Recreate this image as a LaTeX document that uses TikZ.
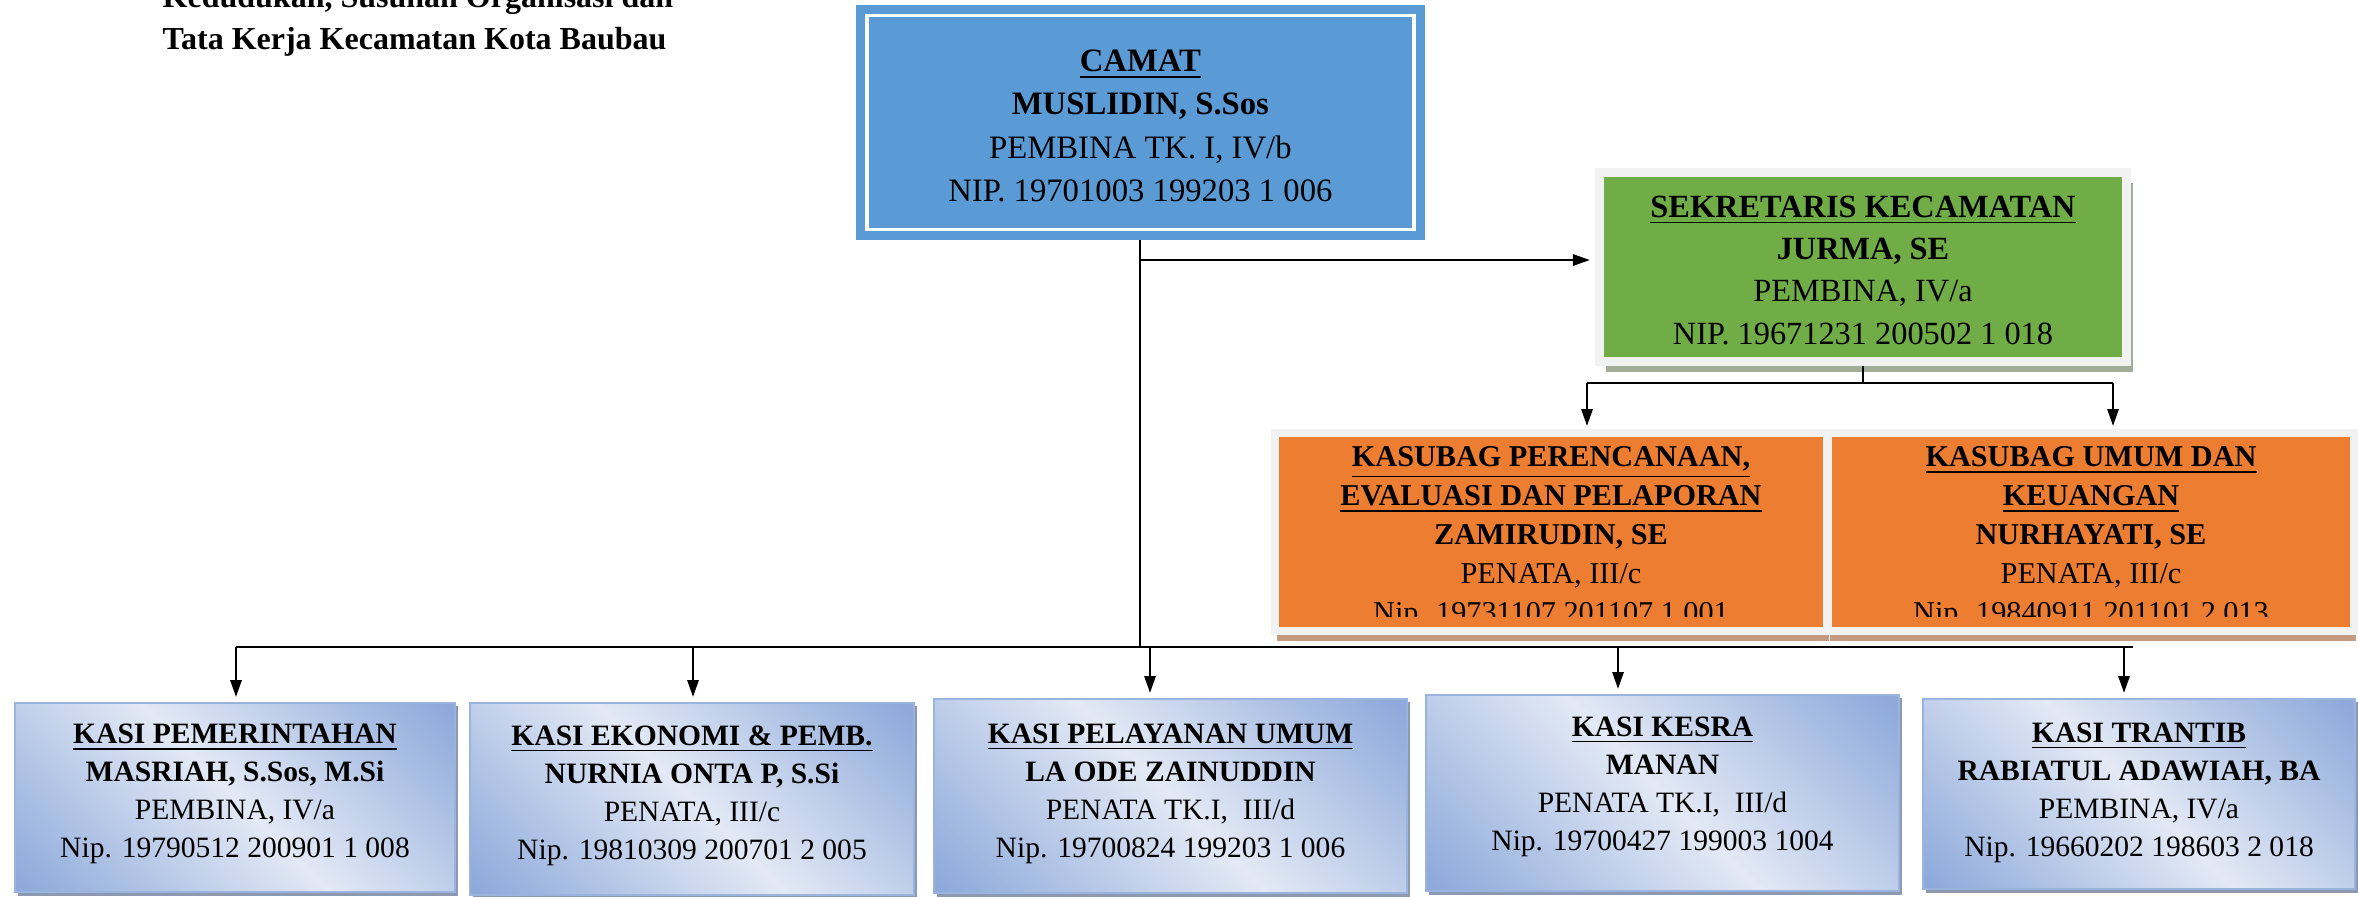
\documentclass[tikz,border=0pt]{standalone}
\usepackage{fontspec}
\setmainfont{Liberation Serif}
\usetikzlibrary{arrows.meta, shadows}
\definecolor{camatblue}{HTML}{5B9BD5}
\definecolor{sekgreen}{HTML}{70AD47}
\definecolor{framegray}{HTML}{F2F2F2}
\definecolor{sekshade}{HTML}{A3AC96}
\definecolor{suborange}{HTML}{ED7D31}
\definecolor{subshade}{HTML}{C49A80}
\definecolor{kdark}{HTML}{8EAADB}
\definecolor{klight}{HTML}{E3E9F5}
\definecolor{kline}{HTML}{9AB3DF}
\definecolor{kshade}{HTML}{8C99B0}
\pgfdeclarehorizontalshading{kasifade}{100bp}{color(0bp)=(kdark); color(16bp)=(kdark); color(50bp)=(klight); color(84bp)=(kdark); color(100bp)=(kdark)}
\newcommand{\topgap}{\rule{0pt}{8pt}}
\newcommand{\lowgap}[1]{\rule[-#1]{0pt}{1pt}}

\begin{document}
\begin{tikzpicture}[x=0.01cm, y=0.01cm,
  box/.style={rectangle, inner sep=0pt, align=center},
  head/.style={box, fill=camatblue, draw=camatblue, double=white, line width=2.56pt,
               double distance=1pt, outer sep=3.06pt, minimum width=5.47cm, minimum height=2.14cm,
               font=\fontsize{9.3}{12.3}\selectfont},
  sekbox/.style={box, fill=sekgreen, draw=framegray, line width=2.56pt,
                 minimum width=5.27cm, minimum height=1.89cm, font=\fontsize{9.2}{12}\selectfont,
                 drop shadow={shadow xshift=0.065cm, shadow yshift=-0.105cm, fill=sekshade, opacity=1}},
  subbox/.style={box, fill=suborange, draw=framegray, line width=2.28pt, minimum height=1.98cm,
                 drop shadow={shadow xshift=0.02cm, shadow yshift=-0.1cm, fill=subshade, opacity=1}},
  subtext/.style={align=center, anchor=north, inner sep=0pt, font=\fontsize{8.6}{11.1}\selectfont},
  kasi/.style={box, shading=kasifade, shading angle=45, draw=kline, line width=0.6pt,
               font=\fontsize{8.4}{10.8}\selectfont,
               drop shadow={shadow xshift=0.03cm, shadow yshift=-0.035cm, fill=kshade, opacity=1}},
  conn/.style={-{Triangle[length=4.8pt, width=3.2pt]}, line width=0.6pt},
  bus/.style={line width=0.8pt}
]
  \path[use as bounding box, clip] (0,0) rectangle (2358,-896);

  \node[anchor=south west, inner sep=0pt, align=left, font=\bfseries\fontsize{9.1}{12}\selectfont] (judul)
    at (162,-57) {Kedudukan, Susunan Organisasi dan\\Tata Kerja Kecamatan Kota Baubau};

  \node[head] (camat) at (1140.4,-122.6)
    {\topgap\underline{\textbf{CAMAT}}\\\textbf{MUSLIDIN, S.Sos}\\PEMBINA TK. I, IV/b\\NIP. 19701003 199203 1 006};
  \node[sekbox] (sekcam) at (1863,-267)
    {\topgap\underline{\textbf{SEKRETARIS KECAMATAN}}\\\textbf{JURMA, SE}\\PEMBINA, IV/a\\NIP. 19671231 200502 1 018};

  \node[subbox, minimum width=5.52cm] (perenc) at (1551,-532) {};
  \node[subbox, minimum width=5.26cm] (umum) at (2091,-532) {};
  \begin{scope}
    \clip (1279,-438) rectangle (1823,-616);
    \node[subtext] (perenctxt) at (1551,-446)
      {\underline{\textbf{KASUBAG PERENCANAAN,}}\\\underline{\textbf{EVALUASI DAN PELAPORAN}}\\\textbf{ZAMIRUDIN, SE}\\PENATA, III/c\\Nip. 19731107 201107 1 001};
  \end{scope}
  \begin{scope}
    \clip (1832,-438) rectangle (2351,-616);
    \node[subtext] (umumtxt) at (2091,-446)
      {\underline{\textbf{KASUBAG UMUM DAN}}\\\underline{\textbf{KEUANGAN}}\\\textbf{NURHAYATI, SE}\\PENATA, III/c\\Nip. 19840911 201101 2 013};
  \end{scope}

  \node[kasi, minimum width=4.40cm, minimum height=1.89cm] (pem) at (235,-797.5)
    {\underline{\textbf{KASI PEMERINTAHAN}}\\\textbf{MASRIAH, S.Sos, M.Si}\\PEMBINA, IV/a\\Nip. 19790512 200901 1 008\lowgap{3.7pt}};
  \node[kasi, minimum width=4.44cm, minimum height=1.92cm] (eko) at (692,-799)
    {\underline{\textbf{KASI EKONOMI \& PEMB.}}\\\textbf{NURNIA ONTA P, S.Si}\\PENATA, III/c\\Nip. 19810309 200701 2 005\lowgap{3.7pt}};
  \node[kasi, minimum width=4.73cm, minimum height=1.94cm] (pel) at (1170.5,-796)
    {\underline{\textbf{KASI PELAYANAN UMUM}}\\\textbf{LA ODE ZAINUDDIN}\\PENATA TK.I,~~III/d\\Nip. 19700824 199203 1 006\lowgap{3pt}};
  \node[kasi, minimum width=4.73cm, minimum height=1.96cm] (kes) at (1662.5,-793)
    {\underline{\textbf{KASI KESRA}}\\\textbf{MANAN}\\PENATA TK.I,~~III/d\\Nip. 19700427 199003 1004\lowgap{5.5pt}};
  \node[kasi, minimum width=4.32cm, minimum height=1.90cm] (tra) at (2139,-794)
    {\underline{\textbf{KASI TRANTIB}}\\\textbf{RABIATUL ADAWIAH, BA}\\PEMBINA, IV/a\\Nip. 19660202 198603 2 018\lowgap{2.5pt}};

  % garis komando
  \coordinate (kbusL) at (236,-647);
  \coordinate (kbusR) at (2133,-647);
  \draw[bus] (kbusL) -- (kbusR);
  \draw[line width=0.6pt] (camat.south) -- (camat.south |- kbusL);
  \coordinate (sekjoin) at (camat.south |- 0,-260);
  \draw[conn, shorten >=0.05cm] (sekjoin) -- (sekjoin -| sekcam.west);

  \coordinate (subL) at (1587,-383);
  \coordinate (subR) at (2113,-383);
  \draw[line width=0.6pt] (sekcam.south) -- (sekcam.south |- subL);
  \draw[line width=0.6pt] (subL) -- (subR);
  \draw[conn, shorten >=0.03cm] (subL) -- (subL |- perenc.north);
  \draw[conn, shorten >=0.03cm] (subR) -- (subR |- umum.north);

  \foreach \x/\k in {236/pem, 693/eko, 1150/pel, 1618/kes, 2124/tra}
    \draw[conn, shorten >=0.05cm] (\x,-647) -- (\x,-647 |- \k.north);
\end{tikzpicture}
\end{document}
